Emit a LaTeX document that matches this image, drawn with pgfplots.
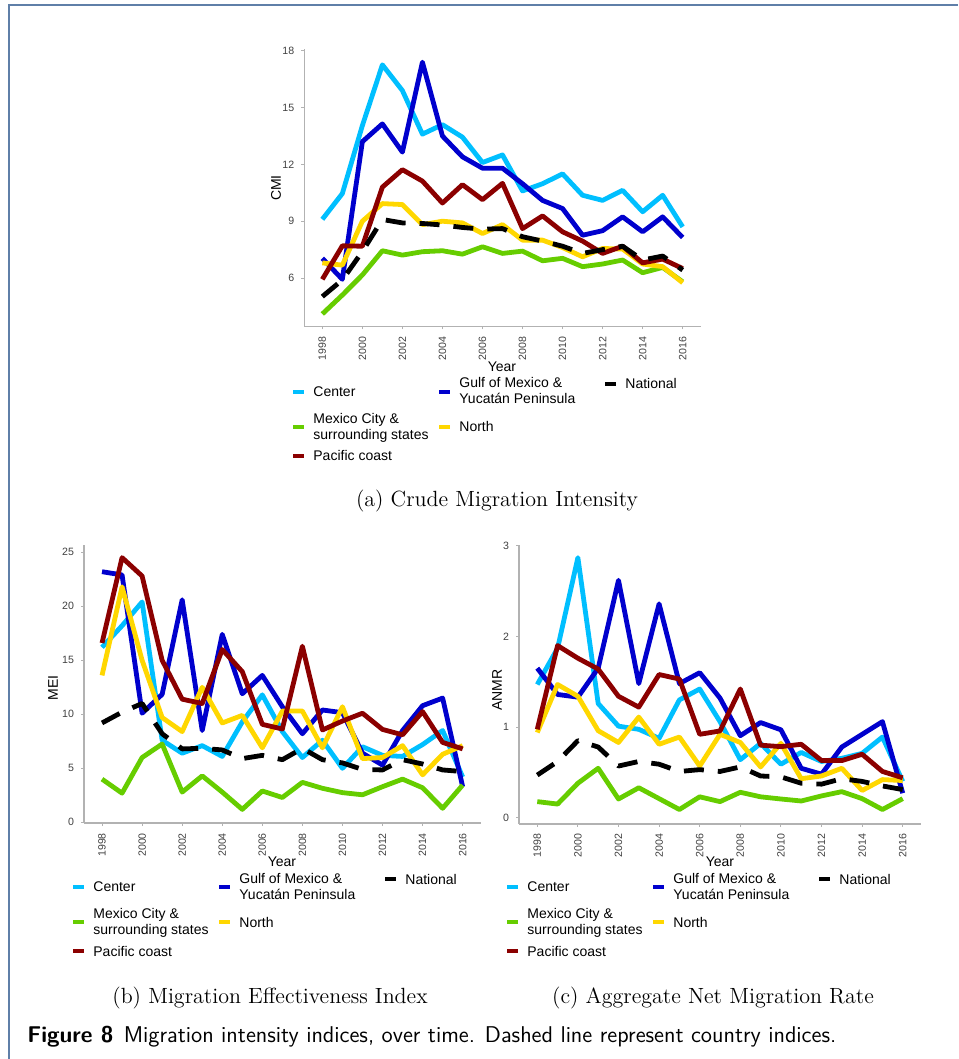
\documentclass[border=0pt]{standalone}
\usepackage{fontspec}
\usepackage{pgfplots}
\usepackage{pgfplotstable}
\pgfplotsset{compat=1.18}
\newfontfamily\ggfont{Liberation Sans}
\newcommand\ggtick{\ggfont\fontsize{5.3}{6}\selectfont}
\newcommand\gglab{\ggfont\fontsize{7}{8}\selectfont}
\newcommand\capfont{\fontsize{11}{13}\selectfont}

\definecolor{cCenter}{HTML}{00BFFF}
\definecolor{cGulf}{HTML}{0000CD}
\definecolor{cMex}{HTML}{66CD00}
\definecolor{cNorth}{HTML}{FFD700}
\definecolor{cPac}{HTML}{8B0000}
\definecolor{frame}{HTML}{5F7FA8}

% year Center Gulf MexCity National North Pacific
\pgfplotstableread{
year C G M N No P
1998 9.1 7.04 4.1 5.02 6.8 5.93
1999 10.46 5.93 5.1 5.9 6.68 7.7
2000 14.05 13.2 6.16 7.4 9.0 7.68
2001 17.26 14.14 7.44 9.09 9.93 10.8
2002 15.9 12.65 7.21 8.91 9.88 11.72
2003 13.6 17.4 7.39 8.88 8.82 11.12
2004 14.1 13.5 7.44 8.8 9.0 9.96
2005 13.44 12.4 7.26 8.67 8.91 10.93
2006 12.1 11.8 7.65 8.58 8.35 10.14
2007 12.5 11.8 7.3 8.61 8.82 11.0
2008 10.6 10.98 7.42 8.18 8.0 8.61
2009 10.98 10.1 6.91 7.95 8.0 9.28
2010 11.5 9.67 7.04 7.68 7.61 8.44
2011 10.37 8.26 6.6 7.3 7.12 7.95
2012 10.1 8.5 6.74 7.5 7.56 7.3
2013 10.63 9.23 6.95 7.68 7.53 7.68
2014 9.5 8.44 6.28 6.95 6.74 6.8
2015 10.37 9.23 6.56 7.16 6.6 7.0
2016 8.7 8.14 5.8 6.42 5.75 6.5
}\cmi

\pgfplotstableread{
year C G M N No P
1998 16.2 23.2 4.0 9.2 13.6 16.6
1999 18.2 22.9 2.7 10.2 21.8 24.5
2000 20.4 10.1 6.0 11.0 15.0 22.8
2001 7.6 11.85 7.25 8.2 9.7 15.0
2002 6.4 20.6 2.8 6.8 8.4 11.4
2003 7.1 8.5 4.3 6.85 12.5 11.0
2004 6.1 17.4 2.8 6.7 9.2 16.0
2005 9.3 11.9 1.2 5.9 9.9 13.95
2006 11.8 13.6 2.9 6.2 6.9 9.07
2007 8.4 10.7 2.3 5.8 10.3 8.64
2008 6.0 8.2 3.7 6.85 10.3 16.3
2009 7.6 10.4 3.15 5.8 6.9 8.55
2010 5.0 10.15 2.75 5.5 10.7 9.38
2011 7.0 6.4 2.55 4.9 5.9 10.1
2012 6.2 5.3 3.3 4.85 6.0 8.6
2013 6.1 8.5 4.0 5.8 7.1 8.1
2014 7.2 10.8 3.2 5.4 4.4 10.25
2015 8.5 11.5 1.3 4.85 6.3 7.4
2016 4.2 3.3 3.45 4.7 7.1 6.8
}\mei

\pgfplotstableread{
year C G M N No P
1998 1.47 1.65 0.177 0.47 0.94 0.975
1999 1.87 1.36 0.15 0.62 1.47 1.9
2000 2.87 1.33 0.38 0.85 1.34 1.76
2001 1.26 1.65 0.545 0.78 0.96 1.64
2002 1.01 2.62 0.206 0.57 0.83 1.34
2003 0.975 1.48 0.33 0.62 1.11 1.22
2004 0.876 2.36 0.21 0.59 0.81 1.58
2005 1.3 1.48 0.09 0.51 0.89 1.53
2006 1.42 1.6 0.23 0.53 0.57 0.92
2007 1.06 1.32 0.177 0.51 0.92 0.957
2008 0.64 0.905 0.28 0.56 0.83 1.42
2009 0.82 1.05 0.23 0.46 0.56 0.80
2010 0.59 0.97 0.206 0.45 0.82 0.784
2011 0.72 0.545 0.184 0.38 0.43 0.81
2012 0.62 0.48 0.24 0.37 0.46 0.63
2013 0.655 0.78 0.287 0.43 0.545 0.63
2014 0.71 0.92 0.21 0.40 0.30 0.70
2015 0.89 1.06 0.09 0.35 0.42 0.51
2016 0.40 0.27 0.21 0.31 0.41 0.44
}\anmr

\pgfplotsset{
  ggaxis/.style={
    scale only axis,
    anchor=south west,
    axis lines=left,
    axis line style={-, draw=black!30, line width=0.6pt},
    xmin=1997.1, xmax=2016.9,
    xtick={1998,2000,...,2016},
    tick align=outside,
    major tick length=1.5pt,
    tick style={black!30, line width=0.5pt},
    xticklabel style={rotate=90, anchor=east, font=\ggtick, text=black!75},
    yticklabel style={font=\ggtick, text=black!75},
    /pgf/number format/1000 sep={},
    /pgf/number format/assume math mode=true,
    no marks,
    every axis plot/.append style={line width=2.4pt, line join=round},
  },
  natl/.style={black, dash pattern=on 10pt off 7pt},
}

% legend block, drawn at the offset of panel (a)
\newcommand\gglegend[2]{%
  \begin{scope}[shift={(#1,#2)}]
    \draw[cCenter, line width=2pt] (146.5pt,333.5pt) -- ++(5.5pt,0);
    \node[anchor=west, inner sep=0, font=\gglab] at (156.5pt,333.5pt) {Center};
    \draw[cGulf, line width=2pt] (219.5pt,333.5pt) -- ++(5.5pt,0);
    \node[anchor=west, inner sep=0, align=left, font=\gglab] at (229.5pt,334pt) {Gulf of Mexico \&\\Yucatán Peninsula};
    \draw[black, line width=2pt] (302.5pt,337.5pt) -- ++(5.5pt,0);
    \node[anchor=west, inner sep=0, font=\gglab] at (312.5pt,337.5pt) {National};
    \draw[cMex, line width=2pt] (146.5pt,316pt) -- ++(5.5pt,0);
    \node[anchor=west, inner sep=0, align=left, font=\gglab] at (156.5pt,315.5pt) {Mexico City \&\\surrounding states};
    \draw[cNorth, line width=2pt] (219.5pt,316pt) -- ++(5.5pt,0);
    \node[anchor=west, inner sep=0, font=\gglab] at (229.5pt,316pt) {North};
    \draw[cPac, line width=2pt] (146.5pt,301.5pt) -- ++(5.5pt,0);
    \node[anchor=west, inner sep=0, font=\gglab] at (156.5pt,301.5pt) {Pacific coast};
  \end{scope}}

\begin{document}
\begin{tikzpicture}

\draw[frame, line width=1pt] (4.5pt,0pt) -- (4.5pt,526.75pt) -- (479pt,526.75pt);

% (a) CMI
\begin{axis}[ggaxis, at={(152.15pt,366.25pt)}, width=198.2pt, height=138.5pt,
  ymin=3.44, ymax=18.07, ytick={6,9,12,15,18}]
\addplot[cCenter] table[x=year,y=C]{\cmi};
\addplot[cGulf] table[x=year,y=G]{\cmi};
\addplot[cMex] table[x=year,y=M]{\cmi};
\addplot[cNorth] table[x=year,y=No]{\cmi};
\addplot[cPac] table[x=year,y=P]{\cmi};
\addplot[natl] table[x=year,y=N]{\cmi};
\end{axis}
\node[font=\gglab] at (251pt,346pt) {Year};
\node[font=\gglab, rotate=90] at (138pt,435.5pt) {CMI};
\gglegend{0pt}{0pt}
\node[font=\capfont] at (248.5pt,279pt) {(a) Crude Migration Intensity};

% (b) MEI
\begin{axis}[ggaxis, at={(42pt,117.95pt)}, width=198.35pt, height=139.2pt,
  ymin=-0.07, ymax=25.7, ytick={0,5,10,15,20,25}]
\addplot[cCenter] table[x=year,y=C]{\mei};
\addplot[cGulf] table[x=year,y=G]{\mei};
\addplot[cMex] table[x=year,y=M]{\mei};
\addplot[cNorth] table[x=year,y=No]{\mei};
\addplot[cPac] table[x=year,y=P]{\mei};
\addplot[natl] table[x=year,y=N]{\mei};
\end{axis}
\node[font=\gglab] at (141pt,98.5pt) {Year};
\node[font=\gglab, rotate=90] at (26.5pt,185.5pt) {MEI};
\gglegend{-110pt}{-247.5pt}
\node[font=\capfont] at (135pt,30.5pt) {(b) Migration Effectiveness Index};

% (c) ANMR
\begin{axis}[ggaxis, at={(259.5pt,117.5pt)}, width=201pt, height=139.5pt,
  ymin=-0.07, ymax=3.01, ytick={0,1,2,3}]
\addplot[cCenter] table[x=year,y=C]{\anmr};
\addplot[cGulf] table[x=year,y=G]{\anmr};
\addplot[cMex] table[x=year,y=M]{\anmr};
\addplot[cNorth] table[x=year,y=No]{\anmr};
\addplot[cPac] table[x=year,y=P]{\anmr};
\addplot[natl] table[x=year,y=N]{\anmr};
\end{axis}
\node[font=\gglab] at (360pt,98.5pt) {Year};
\node[font=\gglab, rotate=90] at (248.5pt,184.5pt) {ANMR};
\gglegend{107pt}{-247.5pt}
\node[font=\capfont] at (356.5pt,30.5pt) {(c) Aggregate Net Migration Rate};

\node[anchor=west, inner sep=0, font=\sffamily\fontsize{11.4}{13}\selectfont] at (13.5pt,11pt)
  {\textbf{Figure 8}\hspace{0.45em}Migration intensity indices, over time. Dashed line represent country indices.};

\pgfresetboundingbox
\useasboundingbox (0,0) rectangle (479pt,529.5pt);
\end{tikzpicture}
\end{document}
